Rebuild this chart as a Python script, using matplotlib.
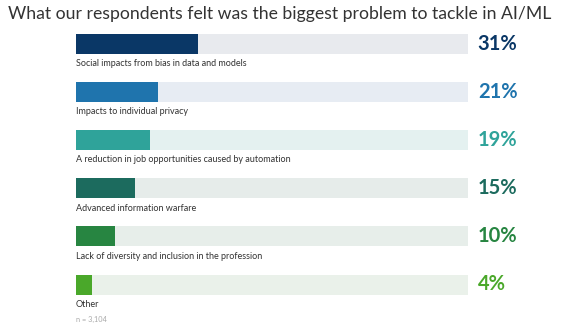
import matplotlib
matplotlib.use("Agg")
import matplotlib.pyplot as plt

categories = ["Social impacts from bias in data and models",
              "Impacts to individual privacy",
              "A reduction in job opportunities caused by automation",
              "Advanced information warfare",
              "Lack of diversity and inclusion in the profession",
              "Other"]
values = [31, 21, 19, 15, 10, 4]
bar_colors = ["#0a3766", "#1f74ad", "#2fa39a", "#1c6b5e", "#278541", "#4aa82a"]
track_colors = ["#e8eaee", "#e7ecf3", "#e4f1f0", "#e6ecea", "#e7eeea", "#eaf1ea"]

plt.rcParams['font.family'] = ['Lato', 'DejaVu Sans']

fig = plt.figure(figsize=(5.8, 3.28), dpi=100)
# axes: x spans the track (76px..468px), y rows spaced ~48px starting at 43.5px
ax = fig.add_axes([76/580, 0, 392/580, 1])
row = 48.2
ax.set_xlim(0, 100)
ax.set_ylim((328 - 43.5) / row, -43.5 / row)
ax.axis("off")

ypos = list(range(len(values)))
ax.barh(ypos, [100]*len(values), height=20/row, color=track_colors, zorder=1)
ax.barh(ypos, values, height=20/row, color=bar_colors, zorder=2)

for i, (cat, v, c) in enumerate(zip(categories, values, bar_colors)):
    ax.text(0, i + 20/row, cat, fontsize=6.5, color="#333333", va="center", ha="left")
    ax.text(102.5, i, f"{v}%", fontsize=14.5, fontweight="bold", color=c,
            va="center", ha="left", clip_on=False)

ax.text(0, 5 + 34.5/row, "n = 3,104", fontsize=5.3, color="#aaaaaa", va="center", ha="left")

fig.text(8/580, 1 - 14/328, "What our respondents felt was the biggest problem to tackle in AI/ML",
         fontsize=12.7, color="#333333", va="center", ha="left")

fig.savefig("out.png", dpi=100)
